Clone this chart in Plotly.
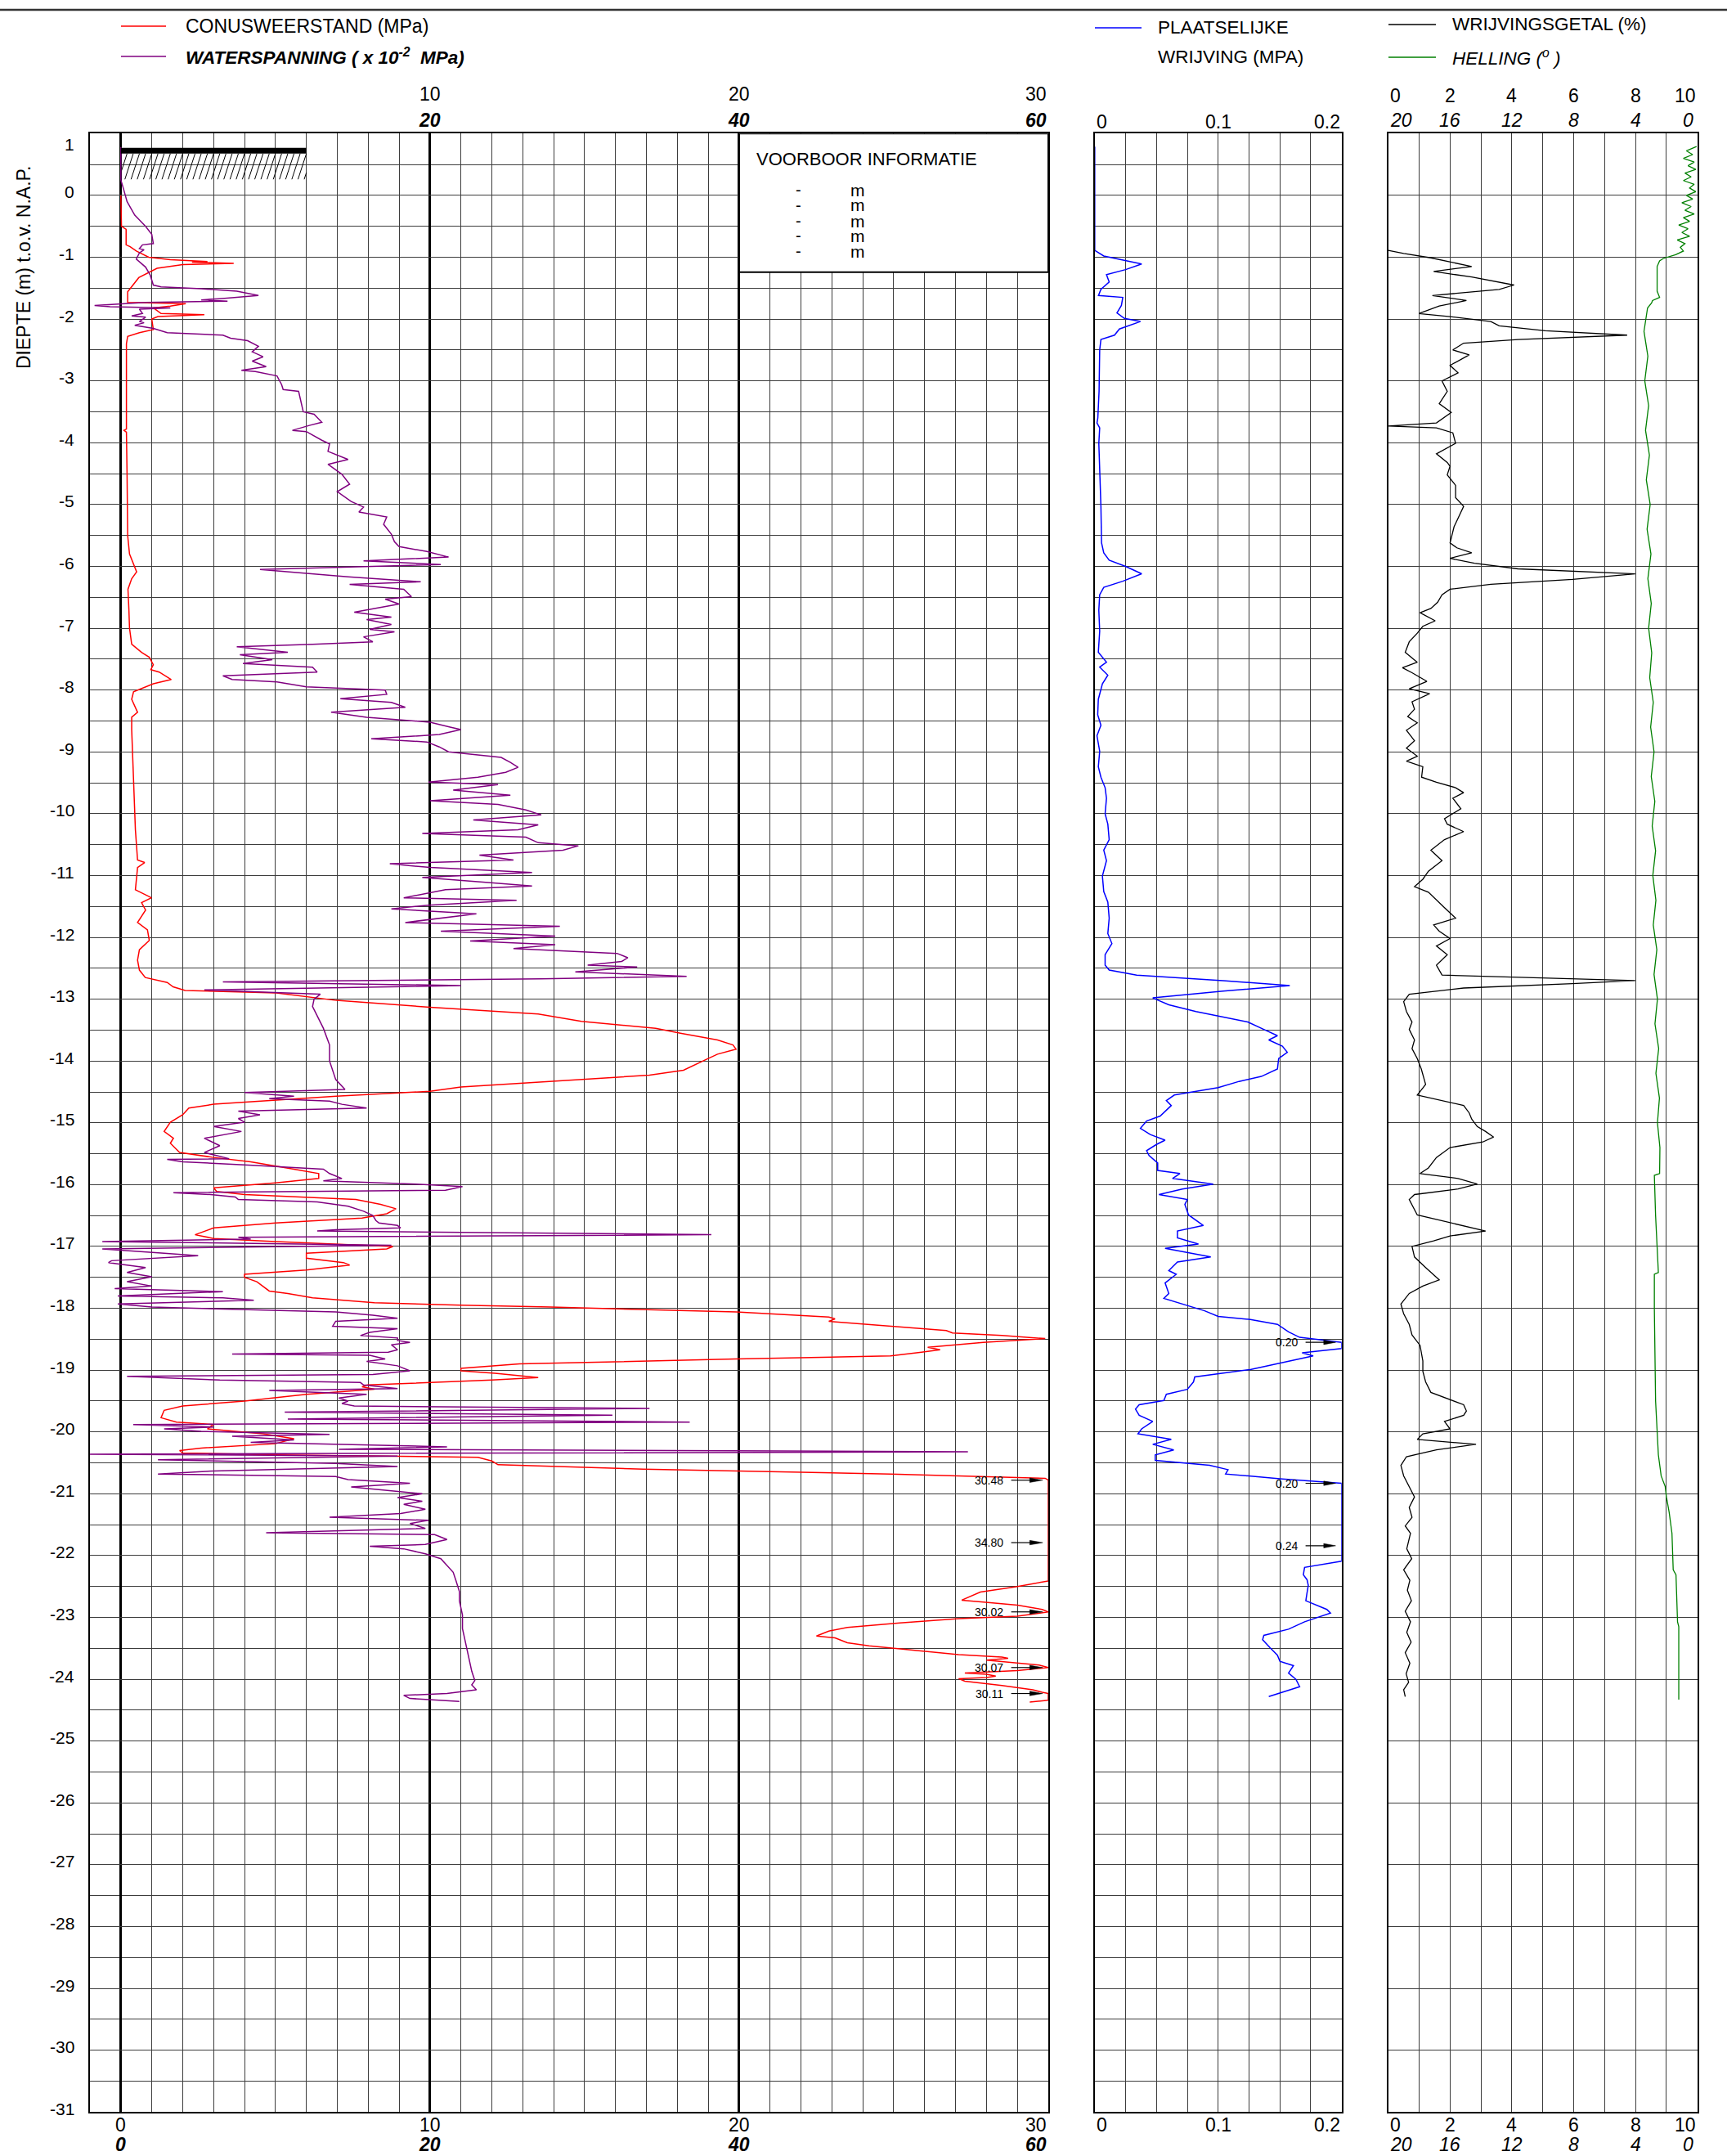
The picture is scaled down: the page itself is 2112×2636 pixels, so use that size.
import plotly.graph_objects as go

W, H = 2112, 2636

# ---------------- data (depth in m t.o.v. N.A.P.) ----------------
# Conusweerstand qc (MPa); values beyond 30 are drawn clipped at the scale end
cone_resistance = [
    (0.0, 0.0), (-0.5, 0.02), (-0.55, 0.17), (-0.8, 0.17), (-0.83, 0.3), (-0.9, 0.5), (-1.0, 0.9),
    (-1.04, 1.6), (-1.07, 2.8), (-1.08, 2.3), (-1.1, 3.65), (-1.12, 2.0), (-1.18, 1.17), (-1.33, 0.58),
    (-1.56, 0.22), (-1.73, 0.22), (-1.75, 2.1), (-1.79, 1.6), (-1.82, 1.05), (-1.91, 1.3), (-1.93, 2.7),
    (-1.96, 1.2), (-2.0, 1.0), (-2.17, 1.05), (-2.22, 0.6), (-2.28, 0.22), (-2.4, 0.18), (-3.0, 0.18),
    (-3.78, 0.18), (-3.8, 0.1), (-3.83, 0.18), (-4.5, 0.2), (-5.5, 0.22), (-5.8, 0.28), (-5.95, 0.41),
    (-6.09, 0.51), (-6.2, 0.35), (-6.37, 0.23), (-6.7, 0.26), (-7.0, 0.28), (-7.26, 0.35), (-7.39, 0.67),
    (-7.47, 0.92), (-7.59, 1.05), (-7.67, 0.97), (-7.71, 1.24), (-7.83, 1.63), (-7.9, 1.05), (-8.03, 0.41),
    (-8.15, 0.35), (-8.36, 0.54), (-8.44, 0.35), (-8.64, 0.35), (-9.0, 0.38), (-9.45, 0.41), (-10.26, 0.47),
    (-10.75, 0.54), (-10.79, 0.77), (-10.87, 0.54), (-11.23, 0.47), (-11.36, 0.99), (-11.44, 0.67),
    (-11.56, 0.8), (-11.76, 0.54), (-11.88, 0.86), (-12.05, 0.92), (-12.2, 0.6), (-12.37, 0.54),
    (-12.53, 0.6), (-12.65, 0.79), (-12.73, 1.5), (-12.8, 1.69), (-12.86, 2.08), (-12.9, 5.03),
    (-13.02, 6.97), (-13.13, 10.0), (-13.24, 13.5), (-13.36, 14.9), (-13.47, 17.3), (-13.55, 18.1),
    (-13.66, 19.3), (-13.74, 19.8), (-13.81, 19.9), (-13.89, 19.3), (-13.96, 19.0), (-14.08, 18.5),
    (-14.15, 18.2), (-14.23, 17.1), (-14.3, 14.9), (-14.42, 11.0), (-14.49, 10.0), (-14.57, 6.97),
    (-14.7, 3.0), (-14.76, 2.2), (-14.87, 2.0), (-14.99, 1.6), (-15.14, 1.4), (-15.25, 1.7), (-15.33, 1.6),
    (-15.48, 1.9), (-15.56, 3.0), (-15.63, 4.2), (-15.75, 5.6), (-15.82, 6.4), (-15.9, 6.4), (-15.97, 5.0),
    (-16.05, 3.0), (-16.11, 3.1), (-16.16, 4.0), (-16.24, 7.6), (-16.32, 8.4), (-16.39, 8.9), (-16.47, 8.6),
    (-16.54, 7.8), (-16.62, 5.0), (-16.7, 3.0), (-16.81, 2.4), (-16.87, 3.0), (-16.92, 5.0), (-17.0, 8.8),
    (-17.04, 8.6), (-17.11, 6.0), (-17.19, 6.0), (-17.26, 7.2), (-17.3, 7.4), (-17.38, 6.0), (-17.45, 4.0),
    (-17.5, 4.0), (-17.57, 4.4), (-17.72, 4.8), (-17.76, 5.4), (-17.83, 6.2), (-17.91, 8.2), (-17.95, 11.0),
    (-17.98, 13.9), (-18.06, 19.9), (-18.14, 22.9), (-18.17, 23.1), (-18.21, 22.9), (-18.29, 24.9),
    (-18.36, 26.7), (-18.4, 26.9), (-18.44, 28.5), (-18.49, 29.9), (-18.55, 27.9), (-18.63, 26.1),
    (-18.67, 26.5), (-18.71, 25.9), (-18.77, 24.9), (-18.82, 19.9), (-18.9, 12.9), (-18.97, 11.0),
    (-19.01, 11.0), (-19.05, 12.1), (-19.12, 13.5), (-19.16, 12.0), (-19.2, 10.0), (-19.24, 7.97),
    (-19.27, 7.8), (-19.31, 8.2), (-19.39, 6.0), (-19.5, 4.0), (-19.58, 2.0), (-19.65, 1.4), (-19.77, 1.3),
    (-19.84, 1.8), (-19.88, 3.0), (-19.95, 2.8), (-20.03, 4.6), (-20.11, 5.6), (-20.19, 5.0), (-20.22, 4.0),
    (-20.26, 2.6), (-20.3, 1.9), (-20.34, 2.0), (-20.37, 5.0), (-20.41, 11.55), (-20.47, 12.0),
    (-20.53, 12.2), (-20.6, 16.9), (-20.68, 24.9), (-20.75, 29.9), (-20.78, 30.0), (-22.41, 30.0),
    (-22.5, 29.0), (-22.59, 27.8), (-22.66, 27.45), (-22.72, 27.2), (-22.75, 27.9), (-22.8, 29.0),
    (-22.87, 29.8), (-22.91, 30.0), (-22.98, 29.0), (-23.02, 27.1), (-23.09, 25.2), (-23.16, 23.5),
    (-23.22, 22.9), (-23.3, 22.5), (-23.33, 23.1), (-23.41, 23.5), (-23.46, 24.2), (-23.51, 25.2),
    (-23.6, 27.1), (-23.64, 28.5), (-23.66, 28.7), (-23.69, 28.0), (-23.77, 29.7), (-23.81, 30.0),
    (-23.86, 29.0), (-23.9, 27.3), (-23.92, 28.0), (-23.95, 28.3), (-23.97, 28.0), (-23.99, 27.1),
    (-24.03, 27.3), (-24.1, 28.5), (-24.17, 29.5), (-24.21, 29.8), (-24.23, 30.0), (-24.34, 30.0),
    (-24.37, 29.4),
]

# Waterspanning u (x 10^-2 MPa)
pore_pressure = [
    (0.78, 0.0), (0.25, 0.0), (0.08, 0.2), (-0.1, 0.4), (-0.32, 0.9), (-0.5, 1.6), (-0.63, 2.0),
    (-0.78, 2.1), (-0.8, 1.4), (-0.86, 1.2), (-0.88, 1.5), (-0.93, 1.2), (-1.03, 1.0), (-1.09, 1.3),
    (-1.16, 1.6), (-1.29, 1.9), (-1.45, 2.1), (-1.48, 2.6), (-1.51, 5.2), (-1.55, 7.5), (-1.62, 8.9),
    (-1.67, 6.4), (-1.69, 5.2), (-1.71, 6.9), (-1.73, 1.6), (-1.78, -1.7), (-1.8, -0.7), (-1.82, 3.2),
    (-1.84, 1.2), (-1.91, 1.4), (-1.95, 0.7), (-1.97, 1.6), (-2.04, 1.2), (-2.06, 1.5), (-2.1, 0.9),
    (-2.15, 2.1), (-2.2, 2.8), (-2.22, 3.0), (-2.26, 6.6), (-2.31, 7.1), (-2.35, 8.2), (-2.44, 8.9),
    (-2.53, 8.5), (-2.61, 9.2), (-2.68, 8.5), (-2.77, 9.4), (-2.83, 7.8), (-2.85, 8.7), (-2.92, 10.1),
    (-3.06, 10.4), (-3.14, 10.5), (-3.17, 11.5), (-3.5, 11.8), (-3.54, 12.5), (-3.67, 13.0), (-3.72, 12.2),
    (-3.8, 11.1), (-3.82, 12.0), (-3.96, 13.0), (-4.02, 13.5), (-4.14, 13.4), (-4.27, 14.7), (-4.35, 13.4),
    (-4.51, 14.3), (-4.67, 14.8), (-4.79, 14.0), (-4.95, 14.9), (-5.04, 15.7), (-5.12, 15.4), (-5.2, 17.2),
    (-5.32, 17.0), (-5.48, 17.5), (-5.6, 17.7), (-5.68, 18.0), (-5.76, 19.8), (-5.85, 21.2), (-5.91, 15.7),
    (-5.97, 20.7), (-6.05, 9.0), (-6.13, 13.1), (-6.17, 14.7), (-6.25, 19.4), (-6.29, 14.8), (-6.37, 18.3),
    (-6.49, 18.8), (-6.53, 17.1), (-6.61, 18.0), (-6.74, 15.1), (-6.82, 17.5), (-6.86, 15.9), (-6.94, 17.5),
    (-7.02, 16.1), (-7.06, 17.7), (-7.14, 15.7), (-7.22, 16.3), (-7.26, 12.4), (-7.3, 7.5), (-7.39, 10.8),
    (-7.43, 7.7), (-7.51, 9.8), (-7.57, 7.9), (-7.63, 12.4), (-7.71, 12.7), (-7.77, 6.6), (-7.83, 7.2),
    (-7.87, 10.1), (-7.95, 12.0), (-8.0, 17.1), (-8.07, 17.2), (-8.14, 14.2), (-8.2, 17.5), (-8.28, 18.4),
    (-8.36, 13.6), (-8.44, 15.9), (-8.52, 20.0), (-8.6, 21.3), (-8.64, 22.0), (-8.72, 20.6), (-8.79, 16.2),
    (-8.84, 19.8), (-8.92, 20.6), (-9.0, 21.2), (-9.09, 24.6), (-9.17, 25.2), (-9.25, 25.7), (-9.33, 24.9),
    (-9.41, 23.1), (-9.49, 19.9), (-9.53, 24.4), (-9.62, 21.5), (-9.7, 25.2), (-9.79, 20.0), (-9.85, 24.4),
    (-9.94, 26.2), (-10.02, 27.2), (-10.1, 22.8), (-10.18, 27.0), (-10.26, 25.7), (-10.32, 19.5),
    (-10.38, 26.2), (-10.47, 27.0), (-10.52, 29.6), (-10.59, 28.6), (-10.67, 23.2), (-10.75, 25.4),
    (-10.81, 17.4), (-10.87, 20.0), (-10.95, 26.6), (-11.03, 19.5), (-11.11, 23.6), (-11.17, 26.6),
    (-11.23, 21.0), (-11.36, 18.3), (-11.4, 25.6), (-11.48, 19.9), (-11.54, 17.5), (-11.62, 23.0),
    (-11.76, 18.4), (-11.82, 28.4), (-11.9, 20.7), (-11.98, 28.1), (-12.06, 22.6), (-12.12, 28.1),
    (-12.18, 25.4), (-12.26, 32.1), (-12.33, 32.8), (-12.39, 32.4), (-12.45, 30.2), (-12.48, 33.4),
    (-12.56, 29.4), (-12.63, 36.6), (-12.67, 27.2), (-12.7, 16.1), (-12.72, 6.6), (-12.78, 22.0),
    (-12.85, 5.4), (-12.92, 12.9), (-13.0, 12.5), (-13.12, 12.4), (-13.17, 12.5), (-13.47, 13.1),
    (-13.74, 13.5), (-14.0, 13.5), (-14.3, 13.9), (-14.46, 14.5), (-14.51, 8.0), (-14.57, 11.2),
    (-14.61, 9.6), (-14.65, 13.5), (-14.7, 14.3), (-14.76, 15.9), (-14.81, 7.6), (-14.87, 9.0), (-14.93, 7.6),
    (-14.99, 8.0), (-15.06, 6.0), (-15.14, 7.8), (-15.25, 5.4), (-15.37, 6.4), (-15.48, 5.4), (-15.58, 7.0),
    (-15.59, 3.0), (-15.63, 4.0), (-15.69, 8.8), (-15.75, 13.1), (-15.82, 13.5), (-15.9, 14.3),
    (-15.94, 13.1), (-15.99, 19.1), (-16.03, 22.1), (-16.09, 21.0), (-16.13, 3.4), (-16.16, 5.8),
    (-16.2, 7.4), (-16.24, 7.6), (-16.28, 12.7), (-16.35, 14.7), (-16.43, 15.7), (-16.5, 16.3),
    (-16.58, 16.5), (-16.62, 16.7), (-16.66, 17.9), (-16.7, 18.1), (-16.73, 13.9), (-16.75, 12.7),
    (-16.81, 38.2), (-16.85, 7.6), (-16.88, 8.4), (-16.92, -1.2), (-16.98, 17.5), (-17.04, -1.2),
    (-17.11, 2.8), (-17.15, 5.0), (-17.23, -0.6), (-17.26, -0.8), (-17.34, 1.6), (-17.42, 0.4),
    (-17.49, 2.0), (-17.57, 0.4), (-17.64, 2.0), (-17.68, -0.4), (-17.73, 6.6), (-17.8, -0.2), (-17.83, 6.6),
    (-17.87, 8.6), (-17.93, -0.2), (-17.98, 2.0), (-18.06, 13.9), (-18.11, 16.3), (-18.16, 17.9),
    (-18.21, 13.9), (-18.29, 13.7), (-18.33, 17.9), (-18.39, 16.1), (-18.44, 15.5), (-18.48, 17.9),
    (-18.52, 17.9), (-18.55, 18.7), (-18.59, 17.5), (-18.67, 17.9), (-18.71, 17.3), (-18.74, 7.2),
    (-18.76, 16.1), (-18.82, 17.1), (-18.86, 15.9), (-18.93, 17.9), (-19.01, 18.7), (-19.07, 16.3),
    (-19.1, 0.4), (-19.16, 6.4), (-19.2, 15.5), (-19.24, 15.7), (-19.3, 17.9), (-19.33, 9.6), (-19.39, 15.9),
    (-19.45, 14.1), (-19.5, 14.7), (-19.54, 14.3), (-19.58, 15.1), (-19.62, 34.2), (-19.68, 10.6),
    (-19.73, 31.8), (-19.79, 10.8), (-19.84, 36.8), (-19.88, 0.8), (-19.92, 6.0), (-19.95, 2.8),
    (-19.99, 5.2), (-20.04, 13.5), (-20.07, 7.2), (-20.13, 11.2), (-20.17, 8.4), (-20.24, 21.1),
    (-20.28, 14.1), (-20.32, 54.8), (-20.36, -2.0), (-20.39, 17.9), (-20.45, 2.4), (-20.51, 13.9),
    (-20.56, 17.9), (-20.63, 6.0), (-20.68, 2.4), (-20.72, 13.9), (-20.77, 14.7), (-20.83, 18.7),
    (-20.89, 14.9), (-20.94, 17.1), (-21.0, 19.5), (-21.06, 17.9), (-21.12, 19.5), (-21.17, 18.3),
    (-21.25, 19.7), (-21.32, 18.1), (-21.38, 13.5), (-21.43, 19.9), (-21.48, 18.7), (-21.56, 19.7),
    (-21.63, 9.4), (-21.66, 20.3), (-21.74, 21.1), (-21.82, 19.7), (-21.85, 16.1), (-21.89, 18.3),
    (-21.97, 19.7), (-22.05, 20.7), (-22.16, 21.1), (-22.27, 21.5), (-22.42, 21.7), (-22.58, 21.9),
    (-22.73, 21.9), (-22.96, 22.1), (-23.18, 22.1), (-23.41, 22.3), (-23.64, 22.5), (-23.87, 22.7),
    (-24.02, 22.9), (-24.09, 22.7), (-24.17, 23.0), (-24.23, 21.1), (-24.26, 18.3), (-24.31, 18.7),
    (-24.36, 21.9),
]

# Plaatselijke wrijving fs (MPa); values beyond 0.2 are drawn clipped
local_friction = [
    (0.79, 0.0), (-0.89, 0.0), (-0.98, 0.0073), (-1.06, 0.0249), (-1.11, 0.038), (-1.2, 0.025),
    (-1.28, 0.0095), (-1.4, 0.0117), (-1.52, 0.005), (-1.62, 0.003), (-1.65, 0.0227), (-1.78, 0.0216),
    (-1.9, 0.018), (-1.99, 0.024), (-2.04, 0.037), (-2.16, 0.02), (-2.26, 0.016), (-2.33, 0.005),
    (-2.5, 0.004), (-3.17, 0.0035), (-3.6, 0.0025), (-3.68, 0.0018), (-3.76, 0.004), (-4.01, 0.0033),
    (-4.35, 0.004), (-5.03, 0.005), (-5.62, 0.0055), (-5.78, 0.0073), (-5.9, 0.0117), (-6.0, 0.025),
    (-6.12, 0.038), (-6.24, 0.0227), (-6.34, 0.0073), (-6.46, 0.004), (-6.71, 0.0033), (-7.05, 0.004),
    (-7.39, 0.0029), (-7.55, 0.0095), (-7.63, 0.004), (-7.76, 0.0106), (-7.9, 0.0062), (-8.15, 0.0029),
    (-8.4, 0.0024), (-8.57, 0.005), (-8.74, 0.0018), (-8.99, 0.004), (-9.24, 0.0029), (-9.41, 0.005),
    (-9.58, 0.0084), (-9.75, 0.0095), (-10.0, 0.0084), (-10.17, 0.0106), (-10.42, 0.0117),
    (-10.59, 0.0073), (-10.76, 0.0095), (-11.01, 0.0062), (-11.26, 0.0073), (-11.43, 0.0106),
    (-11.69, 0.0117), (-11.94, 0.0106), (-12.1, 0.0139), (-12.28, 0.0084), (-12.45, 0.0084),
    (-12.53, 0.0117), (-12.61, 0.034), (-12.7, 0.104), (-12.78, 0.158), (-12.87, 0.104), (-12.98, 0.047),
    (-13.09, 0.06), (-13.2, 0.082), (-13.37, 0.124), (-13.49, 0.137), (-13.59, 0.148), (-13.66, 0.141),
    (-13.76, 0.152), (-13.86, 0.156), (-13.96, 0.149), (-14.13, 0.148), (-14.25, 0.135), (-14.33, 0.117),
    (-14.43, 0.1), (-14.55, 0.0645), (-14.64, 0.058), (-14.72, 0.062), (-14.89, 0.053), (-14.97, 0.042),
    (-15.09, 0.037), (-15.19, 0.045), (-15.28, 0.057), (-15.35, 0.05), (-15.45, 0.042), (-15.53, 0.044),
    (-15.65, 0.051), (-15.77, 0.051), (-15.82, 0.069), (-15.9, 0.063), (-15.99, 0.096), (-16.07, 0.071),
    (-16.16, 0.052), (-16.24, 0.075), (-16.32, 0.073), (-16.49, 0.076), (-16.66, 0.088), (-16.75, 0.067),
    (-16.86, 0.067), (-16.96, 0.084), (-17.03, 0.057), (-17.17, 0.094), (-17.25, 0.067), (-17.39, 0.06),
    (-17.45, 0.066), (-17.59, 0.057), (-17.76, 0.06), (-17.84, 0.056), (-17.98, 0.078), (-18.04, 0.089),
    (-18.13, 0.1), (-18.18, 0.126), (-18.26, 0.148), (-18.38, 0.157), (-18.47, 0.166), (-18.55, 0.2),
    (-18.65, 0.2), (-18.72, 0.168), (-18.77, 0.177), (-18.89, 0.148), (-18.99, 0.126), (-19.11, 0.081),
    (-19.19, 0.08), (-19.31, 0.075), (-19.39, 0.058), (-19.49, 0.056), (-19.56, 0.036), (-19.63, 0.033),
    (-19.73, 0.036), (-19.83, 0.047), (-19.95, 0.038), (-20.03, 0.035), (-20.12, 0.062), (-20.2, 0.047),
    (-20.29, 0.064), (-20.37, 0.049), (-20.46, 0.049), (-20.54, 0.093), (-20.61, 0.108), (-20.68, 0.106),
    (-20.76, 0.152), (-20.83, 0.2), (-22.09, 0.2), (-22.19, 0.17), (-22.31, 0.169), (-22.39, 0.172),
    (-22.48, 0.173), (-22.6, 0.172), (-22.73, 0.171), (-22.87, 0.188), (-22.93, 0.191), (-23.07, 0.17),
    (-23.19, 0.157), (-23.29, 0.137), (-23.36, 0.136), (-23.49, 0.142), (-23.61, 0.148), (-23.71, 0.15),
    (-23.78, 0.161), (-23.9, 0.157), (-24.0, 0.163), (-24.12, 0.166), (-24.19, 0.155), (-24.28, 0.141),
]

# Wrijvingsgetal Rf (%)
friction_ratio = [
    (-0.89, 0.0), (-0.94, 0.5), (-1.01, 1.38), (-1.15, 2.7), (-1.23, 1.47), (-1.32, 2.7), (-1.45, 4.07),
    (-1.52, 3.59), (-1.62, 1.43), (-1.7, 2.53), (-1.79, 1.65), (-1.91, 0.99), (-1.96, 2.0), (-2.04, 3.32),
    (-2.11, 3.59), (-2.19, 5.08), (-2.26, 7.73), (-2.33, 4.2), (-2.39, 2.44), (-2.5, 2.09), (-2.58, 2.62),
    (-2.75, 2.0), (-2.87, 2.26), (-3.0, 1.74), (-3.17, 1.91), (-3.37, 1.65), (-3.51, 2.04), (-3.68, 1.56),
    (-3.73, 0.0), (-3.76, 1.56), (-3.84, 2.09), (-4.01, 2.18), (-4.18, 1.56), (-4.32, 1.91), (-4.38, 2.0),
    (-4.52, 1.91), (-4.69, 2.18), (-4.89, 2.18), (-5.03, 2.44), (-5.36, 2.13), (-5.62, 2.0), (-5.7, 2.22),
    (-5.78, 2.7), (-5.87, 2.0), (-5.95, 2.79), (-6.04, 4.2), (-6.12, 7.99), (-6.21, 5.96), (-6.29, 3.32),
    (-6.37, 2.0), (-6.46, 1.74), (-6.58, 1.6), (-6.68, 1.38), (-6.75, 1.03), (-6.88, 1.52), (-6.97, 1.12),
    (-7.08, 0.94), (-7.22, 0.68), (-7.39, 0.55), (-7.55, 0.94), (-7.64, 0.46), (-7.72, 0.77), (-7.86, 1.25),
    (-7.98, 0.68), (-8.06, 1.34), (-8.19, 0.77), (-8.31, 0.85), (-8.43, 0.63), (-8.53, 0.94), (-8.65, 0.59),
    (-8.82, 0.85), (-8.94, 0.59), (-9.07, 0.94), (-9.15, 0.59), (-9.24, 1.12), (-9.41, 1.08), (-9.49, 1.56),
    (-9.58, 2.18), (-9.66, 2.44), (-9.75, 2.09), (-9.92, 2.35), (-10.08, 1.82), (-10.17, 1.91),
    (-10.29, 2.44), (-10.42, 1.82), (-10.59, 1.38), (-10.76, 1.74), (-10.93, 1.3), (-11.06, 1.12),
    (-11.18, 0.85), (-11.27, 1.3), (-11.4, 1.56), (-11.52, 1.82), (-11.69, 2.18), (-11.8, 1.47),
    (-11.9, 1.65), (-12.02, 2.0), (-12.14, 1.56), (-12.28, 1.91), (-12.45, 1.56), (-12.61, 1.74),
    (-12.7, 7.99), (-12.75, 5.96), (-12.82, 2.44), (-12.92, 0.68), (-13.04, 0.5), (-13.2, 0.59),
    (-13.37, 0.77), (-13.49, 0.68), (-13.66, 0.85), (-13.8, 0.77), (-13.96, 0.94), (-14.13, 1.07),
    (-14.38, 1.21), (-14.55, 0.94), (-14.72, 2.44), (-14.84, 2.62), (-14.94, 2.7), (-15.06, 2.88),
    (-15.14, 3.15), (-15.23, 3.41), (-15.31, 3.06), (-15.4, 2.0), (-15.56, 1.56), (-15.73, 1.3),
    (-15.82, 1.03), (-15.9, 2.26), (-15.99, 2.88), (-16.07, 2.26), (-16.16, 0.85), (-16.24, 0.68),
    (-16.49, 0.94), (-16.66, 2.44), (-16.75, 3.15), (-16.83, 2.0), (-16.91, 1.47), (-17.0, 0.77),
    (-17.17, 0.85), (-17.34, 1.21), (-17.46, 1.47), (-17.54, 1.65), (-17.64, 1.12), (-17.76, 0.68),
    (-17.93, 0.41), (-18.09, 0.5), (-18.26, 0.68), (-18.43, 0.77), (-18.6, 1.03), (-18.85, 1.12),
    (-19.02, 1.12), (-19.19, 1.21), (-19.36, 1.38), (-19.48, 2.0), (-19.56, 2.44), (-19.66, 2.53),
    (-19.73, 2.44), (-19.83, 1.82), (-19.95, 2.0), (-20.03, 1.12), (-20.12, 0.94), (-20.2, 2.84),
    (-20.29, 1.56), (-20.4, 0.59), (-20.54, 0.41), (-20.71, 0.5), (-20.88, 0.68), (-21.05, 0.85),
    (-21.22, 0.68), (-21.38, 0.77), (-21.52, 0.55), (-21.64, 0.72), (-21.89, 0.6), (-22.05, 0.76),
    (-22.23, 0.5), (-22.4, 0.7), (-22.56, 0.62), (-22.73, 0.75), (-22.9, 0.55), (-23.07, 0.72),
    (-23.24, 0.6), (-23.4, 0.74), (-23.57, 0.55), (-23.74, 0.7), (-23.91, 0.58), (-24.05, 0.66),
    (-24.17, 0.5), (-24.28, 0.55),
]

# Helling (degrees)
inclination = [
    (0.79, 0.05), (0.72, 0.7), (0.66, 0.3), (0.6, 0.9), (0.54, 0.2), (0.48, 0.6), (0.42, 0.1),
    (0.36, 0.8), (0.3, 0.4), (0.24, 0.9), (0.18, 0.2), (0.12, 0.5), (0.06, 0.1), (0.0, 0.7),
    (-0.06, 0.3), (-0.12, 1.0), (-0.18, 0.4), (-0.24, 0.8), (-0.3, 0.2), (-0.36, 0.9), (-0.42, 0.5),
    (-0.48, 1.2), (-0.54, 0.6), (-0.6, 1.0), (-0.66, 0.5), (-0.72, 1.3), (-0.78, 0.8), (-0.84, 1.1),
    (-0.9, 0.9), (-0.96, 1.4), (-1.02, 2.2), (-1.06, 2.44), (-1.15, 2.6), (-1.55, 2.6), (-1.65, 2.44),
    (-1.7, 2.9), (-1.74, 2.96), (-1.82, 3.22), (-2.2, 3.45), (-2.6, 3.2), (-3.0, 3.4), (-3.4, 3.15),
    (-3.8, 3.35), (-4.2, 3.1), (-4.6, 3.3), (-5.0, 3.05), (-5.4, 3.25), (-5.8, 3.0), (-6.2, 3.2),
    (-6.6, 2.98), (-7.0, 3.15), (-7.4, 2.95), (-7.8, 3.08), (-8.2, 2.85), (-8.6, 3.02), (-9.0, 2.8),
    (-9.4, 2.98), (-9.8, 2.75), (-10.2, 2.92), (-10.6, 2.7), (-11.0, 2.88), (-11.4, 2.68), (-11.8, 2.85),
    (-12.2, 2.62), (-12.6, 2.8), (-13.0, 2.58), (-13.4, 2.74), (-13.8, 2.5), (-14.2, 2.68), (-14.6, 2.45),
    (-15.0, 2.58), (-15.4, 2.42), (-15.82, 2.44), (-15.85, 2.78), (-16.5, 2.7), (-17.42, 2.52),
    (-17.45, 2.78), (-18.01, 2.78), (-19.5, 2.7), (-20.37, 2.52), (-20.71, 2.34), (-20.88, 2.08),
    (-21.05, 2.0), (-21.3, 1.82), (-21.64, 1.64), (-22.23, 1.56), (-22.31, 1.38), (-23.07, 1.28),
    (-23.15, 1.2), (-24.33, 1.2),
]

# clipped extreme values written next to the scale end
qc_clip_depth = [-20.78, -21.79, -22.91, -23.81, -24.23]
qc_clip_label = ["30.48", "34.80", "30.02", "30.07", "30.11"]
fs_clip_depth = [-18.55, -20.83, -21.84]
fs_clip_label = ["0.20", "0.20", "0.24"]

# ground level / pre-drilling marker (m N.A.P.)
ground_top, ground_bar_bottom, hatch_bottom = 0.77, 0.675, 0.26
marker_width = 6.0

# tick labels
depth_ticks = list(range(1, -32, -1))
depth_labels = [str(v) for v in depth_ticks]
qc_top_ticks = [10, 20, 30]
qc_bottom_ticks = [0, 10, 20, 30]
u_top_ticks = [20, 40, 60]
u_bottom_ticks = [0, 20, 40, 60]
fs_ticks = [0, 0.1, 0.2]
fs_tick_text = ["0", "0.1", "0.2"]
rf_ticks = [0, 2, 4, 6, 8, 10]
hel_ticks = [20, 16, 12, 8, 4, 0]

# ---------------- layout helpers ----------------
def px(x):
    return x / W


def py(y):
    return 1 - y / H


FONT = "Liberation Sans, Arial, sans-serif"
GRID = "#3c3c3c"
X1 = [px(110), px(1282)]
X2 = [px(1338.8), px(1640.7)]
X3 = [px(1697.7), px(2075.7)]
YD = [py(2582.3), py(163.3)]
TICKF = dict(family=FONT, size=23, color="black")
BIF = dict(family=FONT, size=23, color="black", weight="bold", style="italic")
ITF = dict(family=FONT, size=23, color="black", style="italic")
ROW_TOP1, ROW_TOP2, ROW_BOT1, ROW_BOT2 = 115, 147, 2598, 2622


def unz(pairs):
    d = [p[0] for p in pairs]
    v = [p[1] for p in pairs]
    return d, v


fig = go.Figure()

d, v = unz(cone_resistance)
fig.add_trace(go.Scatter(x=v, y=d, xaxis="x", yaxis="y", mode="lines",
                         line=dict(color="#ff0000", width=1.5), name="CONUSWEERSTAND"))
d, v = unz(pore_pressure)
fig.add_trace(go.Scatter(x=v, y=d, xaxis="x2", yaxis="y", mode="lines",
                         line=dict(color="#800080", width=1.5), name="WATERSPANNING"))
d, v = unz(local_friction)
fig.add_trace(go.Scatter(x=v, y=d, xaxis="x3", yaxis="y2", mode="lines",
                         line=dict(color="#0000ff", width=1.5), name="PLAATSELIJKE WRIJVING"))
d, v = unz(friction_ratio)
fig.add_trace(go.Scatter(x=v, y=d, xaxis="x4", yaxis="y3", mode="lines",
                         line=dict(color="black", width=1.3), name="WRIJVINGSGETAL"))
d, v = unz(inclination)
fig.add_trace(go.Scatter(x=v, y=d, xaxis="x5", yaxis="y3", mode="lines",
                         line=dict(color="#008000", width=1.3), name="HELLING"))

# hatching under the ground-level bar
hx, hy = [], []
step, lean = 0.2, 0.27
x0 = -lean
while x0 < marker_width:
    xa, ya, xb, yb = x0, hatch_bottom, x0 + lean, ground_bar_bottom
    if xa < 0:
        ya = hatch_bottom + (0 - xa) / lean * (ground_bar_bottom - hatch_bottom)
        xa = 0
    if xb > marker_width:
        yb = hatch_bottom + (marker_width - x0) / lean * (ground_bar_bottom - hatch_bottom)
        xb = marker_width
    hx += [xa, xb, None]
    hy += [ya, yb, None]
    x0 += step
fig.add_trace(go.Scatter(x=hx, y=hy, xaxis="x", yaxis="y", mode="lines",
                         line=dict(color="black", width=1), hoverinfo="skip"))

shapes = []
annotations = []


def label(xref, x, yref, y, text, font, xanchor="center", yanchor="middle", **kw):
    annotations.append(dict(xref=xref, yref=yref, x=x, y=y, text=text, font=font, xanchor=xanchor,
                            yanchor=yanchor, showarrow=False, **kw))


# header rule
shapes.append(dict(type="line", xref="paper", yref="paper", x0=0, x1=1, y0=py(12), y1=py(12),
                   line=dict(color="#333333", width=2.5)))

# ground bar
shapes.append(dict(type="rect", xref="x", yref="y", x0=0, x1=marker_width, y0=ground_bar_bottom,
                   y1=ground_top, fillcolor="black", line=dict(width=0), layer="above"))

# voorboor box
shapes.append(dict(type="rect", xref="x", yref="y", x0=20, x1=30, y0=-1.243, y1=1,
                   fillcolor="white", line=dict(color="black", width=2), layer="above"))
label("paper", px(923), "paper", py(195), "VOORBOOR INFORMATIE",
      dict(family=FONT, size=22, color="black"), xanchor="left")
for yy in [235, 254, 273, 291, 310]:
    label("paper", px(976), "paper", py(yy - 3), "-", dict(family=FONT, size=20, color="black"))
    label("paper", px(1049), "paper", py(yy - 3), "m", dict(family=FONT, size=21, color="black"))

# clipped value arrows
AF = dict(family=FONT, size=14, color="black")
for dd, lab in zip(qc_clip_depth, qc_clip_label):
    shapes.append(dict(type="line", xref="x", yref="y", x0=28.8, x1=29.45, y0=dd, y1=dd,
                       line=dict(color="black", width=1.2)))
    shapes.append(dict(type="path", xref="x", yref="y",
                       path=f"M 29.4 {dd + 0.036} L 29.82 {dd} L 29.4 {dd - 0.036} Z",
                       fillcolor="black", line=dict(color="black", width=0.5)))
    label("x", 28.6, "y", dd, lab, AF, xanchor="right")
for dd, lab in zip(fs_clip_depth, fs_clip_label):
    shapes.append(dict(type="line", xref="x3", yref="y2", x0=0.1708, x1=0.1865, y0=dd, y1=dd,
                       line=dict(color="black", width=1.2)))
    shapes.append(dict(type="path", xref="x3", yref="y2",
                       path=f"M 0.1855 {dd + 0.036} L 0.1952 {dd} L 0.1855 {dd - 0.036} Z",
                       fillcolor="black", line=dict(color="black", width=0.5)))
    label("x3", 0.1655, "y2", dd, lab, AF, xanchor="right")

# legends
leg = [
    (148, 203, 32, "#ff0000", 225, "CONUSWEERSTAND (MPa)", 23),
    (148, 203, 69, "#800080", 225, "<b><i>WATERSPANNING ( x 10<sup>-2</sup>  MPa)</i></b>", 22.5),
    (1339, 1396, 34, "#0000ff", 1414, "PLAATSELIJKE", 22.5),
    (1698, 1756, 30, "black", 1774, "WRIJVINGSGETAL (%)", 22.5),
    (1698, 1756, 70, "#008000", 1774, "<i>HELLING (<sup>o</sup> )</i>", 22.5),
]
for xa, xb, yy, col, tx, txt, fsz in leg:
    shapes.append(dict(type="line", xref="paper", yref="paper", x0=px(xa), x1=px(xb), y0=py(yy),
                       y1=py(yy), line=dict(color=col, width=1.5)))
    label("paper", px(tx), "paper", py(yy), txt, dict(family=FONT, size=fsz, color="black"),
          xanchor="left")
label("paper", px(1414), "paper", py(70), "WRIJVING (MPA)",
      dict(family=FONT, size=22.5, color="black"), xanchor="left")

# y title
label("paper", px(29), "paper", py(327), "DIEPTE (m) t.o.v. N.A.P.",
      dict(family=FONT, size=23, color="black"), textangle=-90)


# tick labels placed with the axes' own scales
def edge_anchor(i, n):
    return "left" if i == 0 else ("right" if i == n - 1 else "center")


for i, v in enumerate(depth_ticks):
    label("paper", px(93), "y", v, depth_labels[i], dict(family=FONT, size=21, color="black"),
          xanchor="right", yshift=-13 if i == 0 else 4)
for v in qc_top_ticks:
    label("x", v, "paper", py(ROW_TOP1), str(v), TICKF, xanchor="right" if v == 30 else "center")
for v in u_top_ticks:
    label("x2", v, "paper", py(ROW_TOP2), str(v), BIF, xanchor="right" if v == 60 else "center")
for v in qc_bottom_ticks:
    label("x", v, "paper", py(ROW_BOT1), str(v), TICKF, xanchor="right" if v == 30 else "center")
for v in u_bottom_ticks:
    label("x2", v, "paper", py(ROW_BOT2), str(v), BIF, xanchor="right" if v == 60 else "center")
for i, v in enumerate(fs_ticks):
    label("x3", v, "paper", py(149), fs_tick_text[i], TICKF, xanchor=edge_anchor(i, len(fs_ticks)))
    label("x3", v, "paper", py(ROW_BOT1), fs_tick_text[i], TICKF,
          xanchor=edge_anchor(i, len(fs_ticks)))
for i, v in enumerate(rf_ticks):
    label("x4", v, "paper", py(117), str(v), TICKF, xanchor=edge_anchor(i, len(rf_ticks)))
    label("x4", v, "paper", py(ROW_BOT1), str(v), TICKF, xanchor=edge_anchor(i, len(rf_ticks)))
for i, v in enumerate(hel_ticks):
    last = i == len(hel_ticks) - 1
    label("x5", v, "paper", py(ROW_TOP2), str(v), ITF, xanchor=edge_anchor(i, len(hel_ticks)),
          xshift=-3 if last else 0)
    label("x5", v, "paper", py(ROW_BOT2), str(v), ITF, xanchor=edge_anchor(i, len(hel_ticks)),
          xshift=-3 if last else 0)

frame = dict(showline=True, linecolor="black", linewidth=2, mirror=True, zeroline=False, ticks="",
             showticklabels=False)
minor_x1 = dict(tick0=0, dtick=1, showgrid=True, gridcolor=GRID, gridwidth=1.3)
ygrid_half = dict(tick0=0, dtick=0.5, showgrid=True, gridcolor=GRID, gridwidth=1.3)
overlay = dict(showgrid=False, zeroline=False, showline=False, ticks="", showticklabels=False)

fig.update_layout(
    width=W, height=H, margin=dict(l=0, r=0, t=0, b=0, autoexpand=False),
    paper_bgcolor="white", plot_bgcolor="white", showlegend=False,
    font=dict(family=FONT, color="black"),
    xaxis=dict(domain=X1, range=[-1, 30], anchor="y", tickmode="linear", tick0=0, dtick=10,
               showgrid=True, gridcolor="black", gridwidth=2.5, minor=minor_x1, **frame),
    xaxis2=dict(overlaying="x", range=[-2, 60], anchor="y", **overlay),
    yaxis=dict(domain=YD, range=[-31, 1], anchor="x", tickmode="linear", tick0=0, dtick=1,
               showgrid=True, gridcolor=GRID, gridwidth=1.3, minor=ygrid_half, **frame),
    xaxis3=dict(domain=X2, range=[0, 0.2], anchor="y2", tickmode="linear", tick0=0, dtick=0.1,
                showgrid=True, gridcolor=GRID, gridwidth=1.3,
                minor=dict(tick0=0, dtick=0.025, showgrid=True, gridcolor=GRID, gridwidth=1.3),
                **frame),
    yaxis2=dict(domain=YD, range=[-31, 1], anchor="x3", tickmode="linear", tick0=0, dtick=1,
                showgrid=True, gridcolor=GRID, gridwidth=1.3, minor=ygrid_half, **frame),
    xaxis4=dict(domain=X3, range=[0, 10], anchor="y3", tickmode="linear", tick0=0, dtick=2,
                showgrid=True, gridcolor=GRID, gridwidth=1.3, minor=minor_x1, **frame),
    xaxis5=dict(overlaying="x4", range=[20, 0], anchor="y3", **overlay),
    yaxis3=dict(domain=YD, range=[-31, 1], anchor="x4", tickmode="linear", tick0=0, dtick=1,
                showgrid=True, gridcolor=GRID, gridwidth=1.3, **frame),
    shapes=shapes,
    annotations=annotations,
)

fig.write_html("out.html", config={"displayModeBar": False},
               post_script="document.body.style.margin='0px';")
